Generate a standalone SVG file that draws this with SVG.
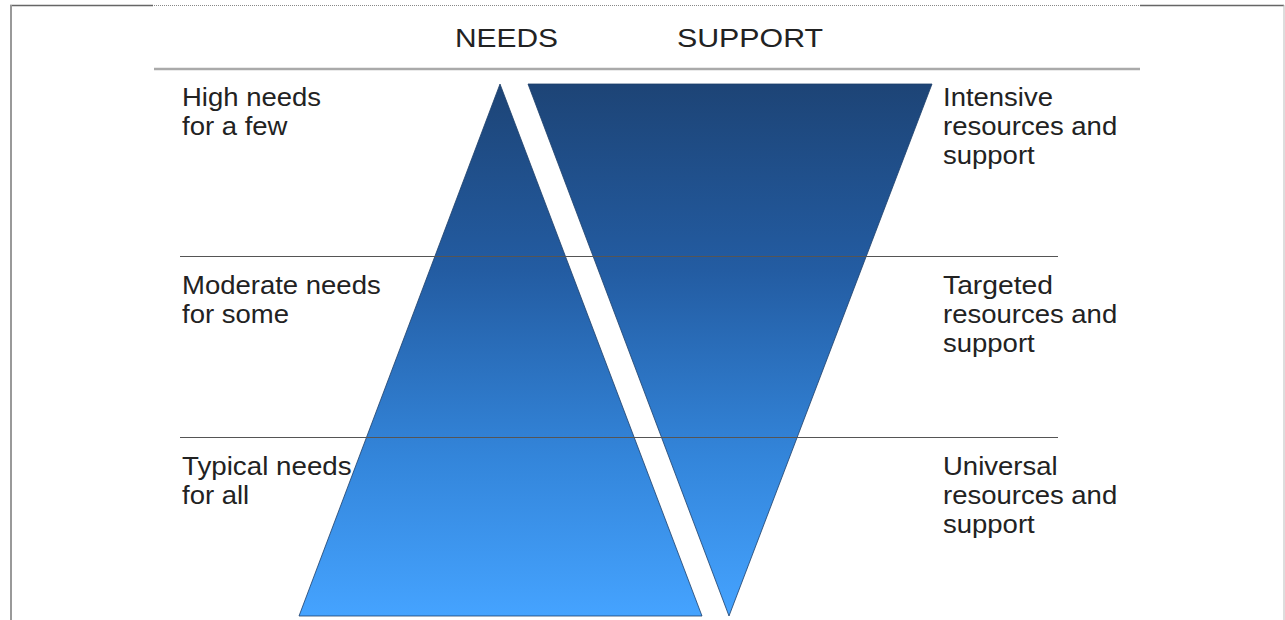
<svg xmlns="http://www.w3.org/2000/svg" width="1285" height="620" viewBox="0 0 1285 620">
<style>
.lbl{font-family:"Liberation Sans",Arial,sans-serif;font-size:26px;fill:#222}
.hdr{font-family:"Liberation Sans",Arial,sans-serif;font-size:25px;fill:#222}
.tri{stroke:#1d3f6a;stroke-width:0.8}
.band{stroke:#555;stroke-width:1.2}
</style>
<defs>
<linearGradient id="g" gradientUnits="userSpaceOnUse" x1="0" y1="84" x2="0" y2="616">
<stop offset="0" stop-color="#1d4476"/>
<stop offset="0.35" stop-color="#235ca2"/>
<stop offset="0.7" stop-color="#3385da"/>
<stop offset="1" stop-color="#45a3ff"/>
</linearGradient>
</defs>
<rect width="1285" height="620" fill="#fff"/>
<g id="frame" fill="none">
<line x1="10" y1="5.5" x2="1284" y2="5.5" stroke="#888" stroke-width="1" stroke-dasharray="1,1"/>
<line x1="10" y1="5.5" x2="153" y2="5.5" stroke="#666" stroke-width="1.5"/>
<line x1="1140" y1="5.5" x2="1284" y2="5.5" stroke="#666" stroke-width="1.5"/>
<line x1="11" y1="5" x2="11" y2="620" stroke="#999" stroke-width="2"/>
<line x1="1284" y1="5" x2="1284" y2="620" stroke="#bbb" stroke-width="1"/>
<line x1="154" y1="69" x2="1140" y2="69" stroke="#aaa" stroke-width="2.5"/>
</g>
<g id="needs">
<polygon class="tri" points="500,84 702,616 299,616" fill="url(#g)"/>
</g>
<g id="support">
<polygon class="tri" points="528,84 932,84 729,616" fill="url(#g)"/>
</g>
<g id="bands">
<line class="band" x1="180" y1="256.5" x2="1058" y2="256.5"/>
<line class="band" x1="180" y1="437.5" x2="1058" y2="437.5"/>
</g>
<g id="headers">
<text class="hdr" x="455" y="47" textLength="103" lengthAdjust="spacingAndGlyphs">NEEDS</text>
<text class="hdr" x="677" y="47" textLength="146" lengthAdjust="spacingAndGlyphs">SUPPORT</text>
</g>
<g id="left-labels">
<text class="lbl" x="182" y="106" textLength="139" lengthAdjust="spacingAndGlyphs">High needs</text>
<text class="lbl" x="182" y="135" textLength="105.5" lengthAdjust="spacingAndGlyphs">for a few</text>
<text class="lbl" x="182" y="294" textLength="198.7" lengthAdjust="spacingAndGlyphs">Moderate needs</text>
<text class="lbl" x="182" y="323" textLength="107" lengthAdjust="spacingAndGlyphs">for some</text>
<text class="lbl" x="182" y="475" textLength="169.6" lengthAdjust="spacingAndGlyphs">Typical needs</text>
<text class="lbl" x="182" y="504" textLength="67.2" lengthAdjust="spacingAndGlyphs">for all</text>
</g>
<g id="right-labels">
<text class="lbl" x="943" y="106" textLength="110" lengthAdjust="spacingAndGlyphs">Intensive</text>
<text class="lbl" x="943" y="135" textLength="174.2" lengthAdjust="spacingAndGlyphs">resources and</text>
<text class="lbl" x="943" y="164" textLength="91.7" lengthAdjust="spacingAndGlyphs">support</text>
<text class="lbl" x="943" y="294" textLength="110" lengthAdjust="spacingAndGlyphs">Targeted</text>
<text class="lbl" x="943" y="323" textLength="174.2" lengthAdjust="spacingAndGlyphs">resources and</text>
<text class="lbl" x="943" y="352" textLength="91.7" lengthAdjust="spacingAndGlyphs">support</text>
<text class="lbl" x="943" y="475" textLength="114.6" lengthAdjust="spacingAndGlyphs">Universal</text>
<text class="lbl" x="943" y="504" textLength="174.2" lengthAdjust="spacingAndGlyphs">resources and</text>
<text class="lbl" x="943" y="533" textLength="91.7" lengthAdjust="spacingAndGlyphs">support</text>
</g>
</svg>
